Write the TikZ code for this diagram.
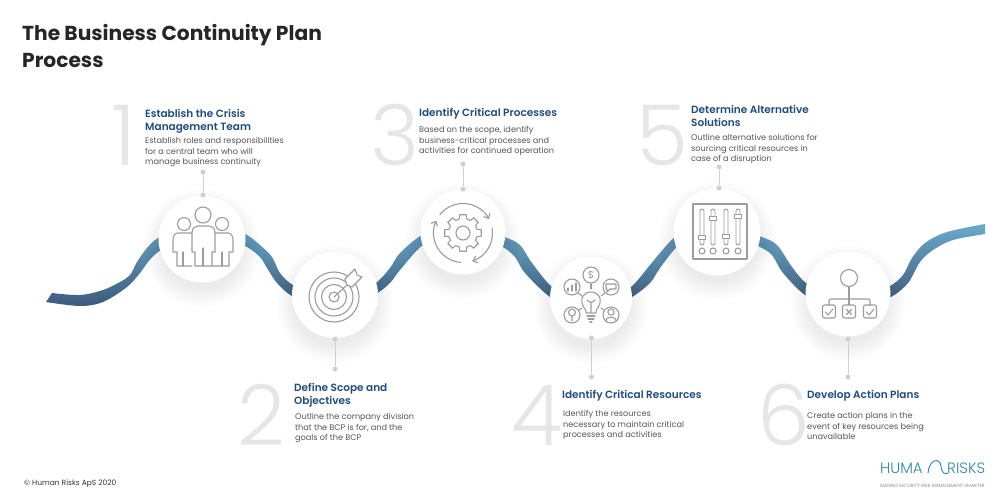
\documentclass[tikz,border=0pt]{standalone}
\usepackage{fontspec}
\setmainfont{Poppins}
\newfontfamily\numfont{Poppins Light}
\newfontfamily\titlefont{Poppins SemiBold}
\newfontfamily\topfont{Poppins Bold}
\newfontfamily\logofont{Poppins Light}
\usetikzlibrary{arrows.meta}
\definecolor{headblue}{HTML}{1F4B80}
\definecolor{bodygrey}{HTML}{555555}
\definecolor{icongrey}{HTML}{9C9C9C}
\definecolor{numgrey}{HTML}{E6E6E6}
\definecolor{dotgrey}{HTML}{CFCFCF}
\definecolor{logoblue}{HTML}{2F86A8}
\definecolor{ribtop}{HTML}{6BAACB}
\definecolor{ribbot}{HTML}{3C5A7C}
\tikzset{
  ribbon/.style={top color=ribtop,bottom color=ribbot,draw=none},
  stepcircle/.style={circle,fill=white,inner sep=0pt,draw=none},
  dotnode/.style={circle,fill=dotgrey,inner sep=0pt,minimum size=5pt},
  linkline/.style={draw=dotgrey,line width=.8pt},
  numeral/.style={anchor=base west,inner sep=0pt,text=numgrey,font=\numfont\fontsize{84}{84}\selectfont},
  headtext/.style={anchor=north west,inner sep=0pt,align=left,text=headblue,font=\titlefont\fontsize{10.5}{13.2}\selectfont},
  bodytext/.style={anchor=north west,inner sep=0pt,align=left,text=bodygrey,font=\fontsize{8.15}{10.6}\selectfont},
  icon/.style={draw=icongrey,line width=1.1pt,line join=round,line cap=round},
}
\begin{document}
\begin{tikzpicture}[x=1pt,y=-1pt]
\useasboundingbox (0,0) rectangle (1000,500);
\fill[white] (0,0) rectangle (1000,500);
% title
\node[anchor=north west,inner sep=0pt,align=left,text=black!85,font=\topfont\fontsize{20.2}{27}\selectfont] (title) at (22,24) {The Business Continuity Plan\\Process};
% ribbon
\shade[ribbon] plot[smooth,tension=.55] coordinates {(52,293) (80,295) (103,290) (120,282) (130,275) (137,262) (147,248) (158,238) (180,228) (205,226) (230,228) (247,235) (260,245) (272,257) (280,273) (293,285) (315,292) (340,293) (360,290) (376,283) (390,268) (400,253) (422,235) (445,228) (470,227) (490,231) (505,237) (520,245) (532,263) (552,287) (570,293) (592,295) (615,292) (631,287) (650,265) (660,253) (675,237) (695,228) (720,226) (745,230) (762,237) (777,245) (792,267) (806,283) (825,291) (850,293) (872,291) (890,286) (903,275) (912,258) (925,243) (947,232) (985,224)}
 -- plot[smooth,tension=.55] coordinates {(985,234) (953,240) (933,250) (920,262) (908,283) (891,297) (870,303) (850,304) (825,302) (805,295) (783,273) (772,255) (760,247) (745,241) (720,238) (695,239) (677,247) (660,268) (650,283) (632,297) (615,304) (592,306) (570,304) (550,297) (525,273) (515,257) (503,247) (490,242) (470,239) (445,240) (423,245) (400,270) (390,283) (376,294) (360,301) (340,304) (315,303) (292,296) (277,283) (267,268) (260,257) (247,247) (230,240) (205,238) (180,240) (158,252) (148,262) (140,273) (127,287) (103,302) (80,306) (46,302)} -- cycle;
% circle shadows and circles
\foreach \cx/\cy/\r in {202/239/43,335/295/43,463/232/42,591/298/41,717/232/43,848/294/42}{
  \foreach \k in {0,2,...,18}{
    \fill[black,opacity=.006] (\cx,\cy+9) circle[radius=\r+16-\k];
  }
}
\node[stepcircle,minimum size=87pt] (c1) at (202,239) {};
\node[stepcircle,minimum size=86pt] (c2) at (335,295) {};
\node[stepcircle,minimum size=85pt] (c3) at (463,232) {};
\node[stepcircle,minimum size=82pt] (c4) at (591,298) {};
\node[stepcircle,minimum size=87pt] (c5) at (717,232) {};
\node[stepcircle,minimum size=85pt] (c6) at (848,294) {};
% numerals
\node[numeral] (n1) at (111,165) {1};
\node[numeral] (n2) at (237,445) {2};
\node[numeral] (n3) at (370,165) {3};
\node[numeral] (n4) at (511,445) {4};
\node[numeral] (n5) at (636,165) {5};
\node[numeral] (n6) at (757,445) {6};
% connector dots
\node[dotnode] (d1a) at (203,172) {};
\node[dotnode] (d1b) at (203,195) {};
\node[dotnode] (d2a) at (335,339) {};
\node[dotnode] (d2b) at (335,369) {};
\node[dotnode] (d3a) at (463,164) {};
\node[dotnode] (d3b) at (463,189) {};
\node[dotnode] (d4a) at (591.5,338) {};
\node[dotnode] (d4b) at (591.5,377) {};
\node[dotnode] (d5a) at (719,167) {};
\node[dotnode] (d5b) at (719,188) {};
\node[dotnode] (d6a) at (848,339) {};
\node[dotnode] (d6b) at (848,377) {};
\foreach \i in {1,...,6}{\draw[linkline] (d\i a) -- (d\i b);}
% texts
\node[headtext] (h1) at (145,109) {Establish the Crisis\\Management Team};
\node[bodytext] (b1) at (145,137) {Establish roles and responsibilities\\for a central team who will\\manage business continuity};
\node[headtext] (h2) at (294,383) {Define Scope and\\Objectives};
\node[bodytext] (b2) at (295,413) {Outline the company division\\that the BCP is for, and the\\goals of the BCP};
\node[headtext] (h3) at (419,108) {Identify Critical Processes};
\node[bodytext] (b3) at (419,126) {Based on the scope, identify\\business-critical processes and\\activities for continued operation};
\node[headtext] (h4) at (562,390) {Identify Critical Resources};
\node[bodytext] (b4) at (563,410) {Identify the resources\\necessary to maintain critical\\processes and activities};
\node[headtext] (h5) at (691,105) {Determine Alternative\\Solutions};
\node[bodytext] (b5) at (691,134) {Outline alternative solutions for\\sourcing critical resources in\\case of a disruption};
\node[headtext] (h6) at (807,390) {Develop Action Plans};
\node[bodytext] (b6) at (807,412) {Create action plans in the\\event of key resources being\\unavailable};
\node[anchor=base west,inner sep=0pt,text=black!80,font=\fontsize{7.5}{9}\selectfont] (copy) at (24,485) {© Human Risks ApS 2020};
% logo
\node[anchor=base west,inner sep=0pt,text=logoblue,font=\logofont\fontsize{15}{15}\selectfont] (lg1) at (880,473) {HUMA};
\node[anchor=base west,inner sep=0pt,text=logoblue,font=\logofont\fontsize{15}{15}\selectfont] (lg2) at (947,473) {RISKS};
\draw[logoblue,line width=.9pt] (928,473) .. controls (929,459) and (940,457) .. (941,466) .. controls (941.5,473) and (945,475) .. (948,473);
\node[anchor=base west,inner sep=0pt,text=black!45,font=\fontsize{4.6}{5}\selectfont] (lg3) at (880,487) {MAKING SECURITY RISK MANAGEMENT SMARTER};
% icon 1
\begin{scope}[icon]
\draw (203,215) circle[radius=8];
\draw (184,224) circle[radius=6.5];
\draw (222,224) circle[radius=6.5];
\draw (192,252) -- (192,233) .. controls (192,228) and (195,226) .. (198,226) -- (209,226) .. controls (212,226) and (215,228) .. (215,233) -- (215,252) -- (212,252) -- (212,266) -- (195,266) -- (195,252) -- cycle;
\draw (203,266) -- (203,248);
\draw (192,233) -- (178,233) .. controls (175,233) and (173,236) .. (173,240) -- (173,252) -- (177,252) -- (177,266) -- (192,266);
\draw (183,266) -- (183,252);
\draw (215,233) -- (228,233) .. controls (231,233) and (233,236) .. (233,240) -- (233,252) -- (229,252) -- (229,266) -- (212,266);
\draw (222,266) -- (222,252);
% icon 2
\draw (334,297) circle[radius=25];
\draw (334,297) circle[radius=19];
\draw (334,297) circle[radius=12.5];
\draw (334,297) circle[radius=5];
\filldraw[fill=white] (345,279) -- (355,269) -- (357,275) -- (362,277) -- (352,287) -- (347,285) -- cycle;
\draw (334,297) -- (347,285);
% icon 3
\begin{scope}[shift={(463,233)}]
\draw (0,0) circle[radius=7];
\foreach \a in {0,45,...,315}{
  \draw (\a-10:18.5) -- (\a+10:18.5) -- (\a+15:14.5) -- (\a+30:14.5) -- (\a+35:18.5);
}
\draw[-{Straight Barb[length=4pt,width=7pt]}] (218:29.5) arc[start angle=218,end angle=332,radius=29.5];
\draw[-{Straight Barb[length=4pt,width=7pt]}] (350:29.5) arc[start angle=350,end angle=432,radius=29.5];
\draw[-{Straight Barb[length=4pt,width=7pt]}] (95:29.5) arc[start angle=95,end angle=205,radius=29.5];
\end{scope}
% icon 4
\draw (591,275) circle[radius=8];
\draw (572,287) circle[radius=8];
\draw (611,287) circle[radius=8];
\draw (572,315) circle[radius=8];
\draw (611,315) circle[radius=8];
\draw (583.5,307) .. controls (579,298) and (584,292) .. (591,292) .. controls (598,292) and (603,298) .. (598.5,307) .. controls (596,310) and (596,311) .. (596,313) -- (586,313) .. controls (586,311) and (586,310) .. (583.5,307);
\draw (587,316) -- (595,316) (588,319) -- (594,319) (590,322) -- (592,322);
\draw (587,300) .. controls (589,303) and (593,303) .. (595,300) (591,302) -- (591,312);
\draw (591,284) -- (591,289);
\draw (578,293) -- (582,296);
\draw (605,293) -- (601,296);
\draw (579,310) -- (582,308);
\draw (604,310) -- (601,308);
\draw (568,291) -- (568,288) (572,291) -- (572,285) (576,291) -- (576,283);
\draw (606,284) -- (616,284) -- (616,289) -- (610,289) -- (607,292) -- (607,289) -- (606,289) -- cycle;
\draw (572,312.5) circle[radius=3.5] (572,316) -- (572,321);
\draw (611,312) circle[radius=3.2];
\draw (605.5,321) .. controls (606,316) and (616,316) .. (616.5,321);
\node[inner sep=0pt,text=icongrey,font=\fontsize{10}{10}\selectfont] (dollar) at (591,275) {\$};
% icon 5
\draw (693,204) rectangle (747,259);
\foreach \x/\k in {702/237,713/218,726/236,738/216}{
  \draw[line width=.9pt,rounded corners=2pt] (\x-2,209) rectangle (\x+2,245);
  \filldraw[fill=white,line width=.9pt] (\x-3.5,\k-2) rectangle (\x+3.5,\k+2);
  \draw (\x,251) circle[radius=3];
}
% icon 6
\draw (849,278) circle[radius=8.5];
\draw (849,286.5) -- (849,305);
\draw (829,305) -- (829,301) .. controls (829,299.5) and (830,299) .. (831,299) -- (868,299) .. controls (869,299) and (870,299.5) .. (870,301) -- (870,305);
\foreach \x in {829,849,870}{\draw[rounded corners=2pt] (\x-6.5,305) rectangle (\x+6.5,318);}
\draw (825.5,312) -- (828,315) -- (833,309);
\draw (866.5,312) -- (869,315) -- (874,309);
\draw (846.5,309.5) -- (851.5,314.5) (851.5,309.5) -- (846.5,314.5);
\end{scope}
\end{tikzpicture}
\end{document}
